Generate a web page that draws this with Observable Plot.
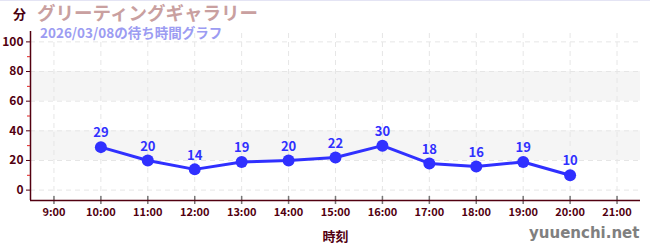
<!DOCTYPE html>
<html>
<head>
<meta charset="utf-8">
<script src="https://cdn.jsdelivr.net/npm/d3@7"></script>
<script src="https://cdn.jsdelivr.net/npm/@observablehq/plot@0.6"></script>
<style>
  html, body { margin: 0; padding: 0; background: #fff; }
  #wrap { position: relative; width: 650px; height: 250px; overflow: hidden; border-top: 1px solid #e4e4f4; box-sizing: border-box; font-family: "Noto Sans CJK JP", "DejaVu Sans", sans-serif; }
  .ov { position: absolute; white-space: nowrap; font-weight: bold; line-height: 1; }
  #unit { left: 13px; top: 6px; font-size: 13px; color: #4a0010; }
  #title { left: 37px; top: 2px; font-size: 18.5px; color: #c9a0a0; }
  #sub { left: 40px; top: 24.5px; font-size: 13.5px; color: #9c9cf2; font-weight: bold; }
  #wm { left: 529px; top: 225px; font-size: 15px; color: #808080; font-family: "DejaVu Sans", sans-serif; }
  #chart { position: absolute; left: 0; top: -1px; }
</style>
</head>
<body>
<div id="wrap">
  <div id="chart"></div>
  <div class="ov" id="unit">分</div>
  <div class="ov" id="title">グリーティングギャラリー</div>
  <div class="ov" id="sub">2026/03/08の待ち時間グラフ</div>
  <div class="ov" id="wm">yuuenchi.net</div>
</div>
<script>
const hours = [10, 11, 12, 13, 14, 15, 16, 17, 18, 19, 20];
const waits = [29, 20, 14, 19, 20, 22, 30, 18, 16, 19, 10];
const xTicks = [9, 10, 11, 12, 13, 14, 15, 16, 17, 18, 19, 20, 21];
const yTicks = [0, 20, 40, 60, 80, 100];
const yMinor = [10, 30, 50, 70, 90];
const bands = [[20, 40], [60, 80]];
const xAxisTitle = "時刻";

const data = hours.map((h, i) => ({h, v: waits[i]}));
const fmt = h => `${h}:00`;
const maroon = "#520010";
const blue = "#3030ff";
const font = "'Noto Sans CJK JP', 'DejaVu Sans', sans-serif";

const chart = Plot.plot({
  width: 650,
  height: 250,
  marginLeft: 30,
  marginRight: 10,
  marginTop: 31,
  marginBottom: 50,
  style: {fontFamily: font, fontSize: "11px", background: "transparent", overflow: "visible"},
  x: {domain: [8.5, 21.5], axis: null},
  y: {domain: [-7, 107], axis: null},
  marks: [
    Plot.rect(bands, {x1: () => 8.5, x2: () => 21.5, y1: d => d[0], y2: d => d[1], fill: "#f5f5f5"}),
    Plot.ruleX(xTicks, {x: d => d, y1: () => -7, y2: () => 107, stroke: "#e6e6e6", strokeDasharray: "5,4"}),
    Plot.ruleY(yTicks, {y: d => d, x1: () => 8.5, x2: () => 21.5, stroke: "#e6e6e6", strokeDasharray: "5,4"}),
    Plot.ruleX(xTicks, {x: d => d, y1: () => -7, y2: () => -7, insetTop: -4, insetBottom: -4, stroke: "#777", strokeWidth: 1.5}),
    Plot.ruleY([-7], {y: d => d, x1: () => 8.5, x2: () => 21.5, stroke: maroon, strokeWidth: 1.5}),
    Plot.ruleX([8.5], {x: d => d, y1: () => -7, y2: () => 107, stroke: maroon, strokeWidth: 1.5}),
    Plot.axisX({ticks: xTicks, tickFormat: fmt, tickSize: 0, tickPadding: 8, fill: maroon, fontWeight: "bold", fontSize: 11, label: null}),
    Plot.axisY({ticks: yTicks, tickSize: 4, tickPadding: 3, stroke: maroon, fill: maroon, fontWeight: "bold", fontSize: 12, label: null}),
    Plot.axisY({ticks: yMinor, tickSize: 3, stroke: "#e02020", tickFormat: () => "", label: null}),
    Plot.axisX({ticks: [], label: xAxisTitle, labelAnchor: "center", labelArrow: "none", labelOffset: 40, fill: maroon, fontWeight: "bold", fontSize: 13}),
    Plot.line(data, {x: "h", y: "v", stroke: blue, strokeWidth: 3}),
    Plot.dot(data, {x: "h", y: "v", fill: blue, r: 6}),
    Plot.text(data, {x: "h", y: "v", text: "v", dy: -14, fill: blue, fontWeight: "bold", fontSize: 13})
  ]
});
document.getElementById("chart").appendChild(chart);
</script>
</body>
</html>
